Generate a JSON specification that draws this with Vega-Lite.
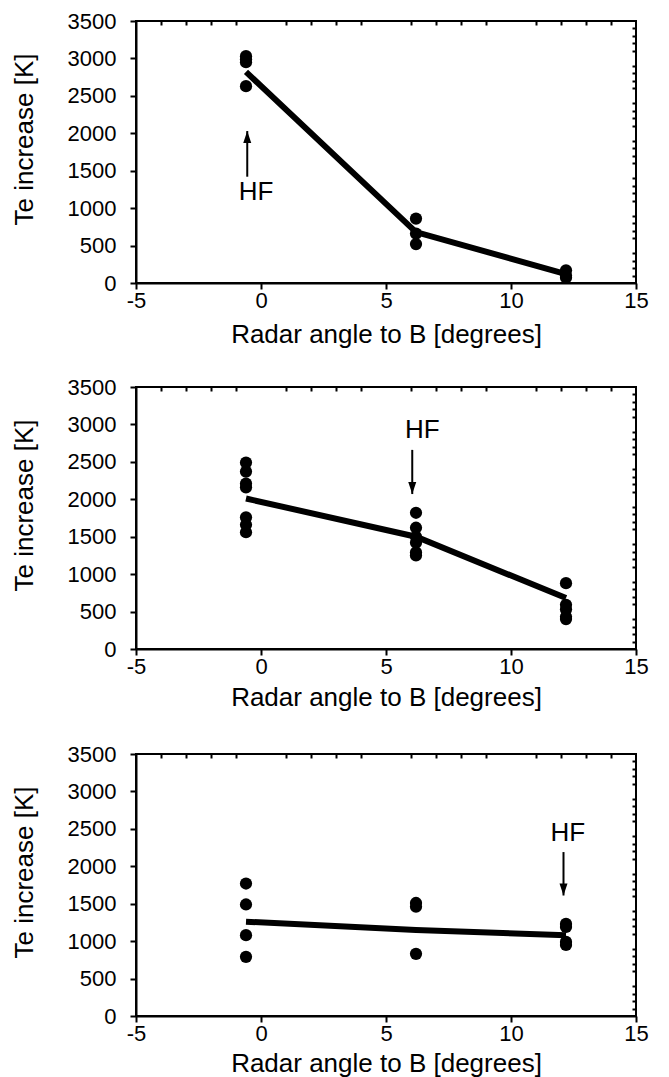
{
  "$schema": "https://vega.github.io/schema/vega-lite/v6.json",
  "background": "white",
  "padding": {"left": 10, "top": 9, "right": 5, "bottom": 0},
  "spacing": 27,
  "config": {
    "font": "Liberation Sans",
    "view": {"stroke": "black", "strokeWidth": 2},
    "axis": {
      "grid": false,
      "tickColor": "black",
      "tickWidth": 2,
      "domainColor": "black",
      "domainWidth": 2,
      "labelColor": "black",
      "labelFont": "Liberation Sans",
      "labelFontSize": 22,
      "titleColor": "black",
      "titleFont": "Liberation Sans",
      "titleFontSize": 26,
      "titleFontWeight": "normal"
    }
  },
  "datasets": {
    "points": [
      {"panel": 1, "angle": -0.6, "te": 3030},
      {"panel": 1, "angle": -0.6, "te": 2990},
      {"panel": 1, "angle": -0.6, "te": 2950},
      {"panel": 1, "angle": -0.6, "te": 2630},
      {"panel": 1, "angle": 6.2, "te": 860},
      {"panel": 1, "angle": 6.2, "te": 660},
      {"panel": 1, "angle": 6.2, "te": 520},
      {"panel": 1, "angle": 12.2, "te": 170},
      {"panel": 1, "angle": 12.2, "te": 100},
      {"panel": 1, "angle": 12.2, "te": 70},
      {"panel": 2, "angle": -0.6, "te": 2490},
      {"panel": 2, "angle": -0.6, "te": 2370},
      {"panel": 2, "angle": -0.6, "te": 2210},
      {"panel": 2, "angle": -0.6, "te": 2160},
      {"panel": 2, "angle": -0.6, "te": 1760},
      {"panel": 2, "angle": -0.6, "te": 1660},
      {"panel": 2, "angle": -0.6, "te": 1560},
      {"panel": 2, "angle": 6.2, "te": 1820},
      {"panel": 2, "angle": 6.2, "te": 1620},
      {"panel": 2, "angle": 6.2, "te": 1500},
      {"panel": 2, "angle": 6.2, "te": 1420},
      {"panel": 2, "angle": 6.2, "te": 1290},
      {"panel": 2, "angle": 6.2, "te": 1250},
      {"panel": 2, "angle": 12.2, "te": 880},
      {"panel": 2, "angle": 12.2, "te": 590},
      {"panel": 2, "angle": 12.2, "te": 530},
      {"panel": 2, "angle": 12.2, "te": 430},
      {"panel": 2, "angle": 12.2, "te": 400},
      {"panel": 3, "angle": -0.6, "te": 1770},
      {"panel": 3, "angle": -0.6, "te": 1490},
      {"panel": 3, "angle": -0.6, "te": 1080},
      {"panel": 3, "angle": -0.6, "te": 790},
      {"panel": 3, "angle": 6.2, "te": 1510},
      {"panel": 3, "angle": 6.2, "te": 1460},
      {"panel": 3, "angle": 6.2, "te": 830},
      {"panel": 3, "angle": 12.2, "te": 1230},
      {"panel": 3, "angle": 12.2, "te": 1190},
      {"panel": 3, "angle": 12.2, "te": 990},
      {"panel": 3, "angle": 12.2, "te": 950}
    ],
    "fit": [
      {"panel": 1, "angle": -0.6, "te": 2820},
      {"panel": 1, "angle": 6.2, "te": 680},
      {"panel": 1, "angle": 12.2, "te": 120},
      {"panel": 2, "angle": -0.6, "te": 2010},
      {"panel": 2, "angle": 6.2, "te": 1500},
      {"panel": 2, "angle": 12.2, "te": 680},
      {"panel": 3, "angle": -0.6, "te": 1260},
      {"panel": 3, "angle": 6.2, "te": 1150},
      {"panel": 3, "angle": 12.2, "te": 1080}
    ],
    "arrows": [
      {"panel": 1, "angle": -0.55, "tail": 1420, "tip": 2030},
      {"panel": 2, "angle": 6.05, "tail": 2660, "tip": 2070},
      {"panel": 3, "angle": 12.1, "tail": 2190, "tip": 1610}
    ],
    "labels": [
      {"panel": 1, "angle": -0.2, "te": 1220, "text": "HF"},
      {"panel": 2, "angle": 6.45, "te": 2920, "text": "HF"},
      {"panel": 3, "angle": 12.27, "te": 2450, "text": "HF"}
    ]
  },
  "vconcat": [
    {
      "width": 500,
      "height": 262,
      "layer": [
        {
          "data": {"name": "points"},
          "transform": [{"filter": "datum.panel == 1"}],
          "mark": {"type": "circle", "size": 150, "color": "black", "opacity": 1},
          "encoding": {
            "x": {"field": "angle", "type": "quantitative", "scale": {"domain": [-5, 15], "nice": false, "zero": false},
              "axis": {"values": [-5, 0, 5, 10, 15], "labelExpr": "'' + datum.value", "tickSize": 6, "labelPadding": 1, "labelFlush": false, "title": "Radar angle to B [degrees]", "titlePadding": 10}},
            "y": {"field": "te", "type": "quantitative", "scale": {"domain": [0, 3500], "nice": false},
              "axis": {"values": [0, 500, 1000, 1500, 2000, 2500, 3000, 3500], "labelExpr": "'' + datum.value", "tickSize": 6, "labelPadding": 14, "title": "Te increase [K]", "titlePadding": 30, "titleY": 118}}
          }
        },
        {
          "data": {"name": "fit"},
          "transform": [{"filter": "datum.panel == 1"}],
          "mark": {"type": "line", "color": "black", "strokeWidth": 6},
          "encoding": {
            "x": {"field": "angle", "type": "quantitative",
              "axis": {"values": [-4, -3, -2, -1, 1, 2, 3, 4, 6, 7, 8, 9, 11, 12, 13, 14], "tickSize": -4, "domain": false, "labels": false, "title": null}},
            "y": {"field": "te", "type": "quantitative",
              "axis": {"values": [100, 200, 300, 400, 600, 700, 800, 900, 1100, 1200, 1300, 1400, 1600, 1700, 1800, 1900, 2100, 2200, 2300, 2400, 2600, 2700, 2800, 2900, 3100, 3200, 3300, 3400], "tickSize": -4, "domain": false, "labels": false, "title": null}}
          }
        },
        {
          "data": {"name": "arrows"},
          "transform": [{"filter": "datum.panel == 1"}],
          "mark": {"type": "rule", "color": "black", "strokeWidth": 2},
          "encoding": {
            "x": {"field": "angle", "type": "quantitative", "axis": null},
            "y": {"field": "tail", "type": "quantitative", "axis": null},
            "y2": {"field": "tip"}
          }
        },
        {
          "data": {"name": "arrows"},
          "transform": [{"filter": "datum.panel == 1"}],
          "mark": {"type": "point", "shape": "M0,0 L-0.8,2.4 L0.8,2.4 Z", "filled": true, "size": 100, "color": "black", "opacity": 1},
          "encoding": {
            "x": {"field": "angle", "type": "quantitative", "axis": null},
            "y": {"field": "tip", "type": "quantitative", "axis": null}
          }
        },
        {
          "data": {"name": "labels"},
          "transform": [{"filter": "datum.panel == 1"}],
          "mark": {"type": "text", "fontSize": 26, "color": "black", "font": "Liberation Sans"},
          "encoding": {
            "x": {"field": "angle", "type": "quantitative", "axis": null},
            "y": {"field": "te", "type": "quantitative", "axis": null},
            "text": {"field": "text"}
          }
        }
      ],
      "resolve": {"axis": {"x": "independent", "y": "independent"}}
    },
    {
      "spacing": 31,
      "vconcat": [
        {
          "width": 500,
          "height": 262,
          "layer": [
            {
              "data": {"name": "points"},
              "transform": [{"filter": "datum.panel == 2"}],
              "mark": {"type": "circle", "size": 150, "color": "black", "opacity": 1},
              "encoding": {
                "x": {"field": "angle", "type": "quantitative", "scale": {"domain": [-5, 15], "nice": false, "zero": false},
                  "axis": {"values": [-5, 0, 5, 10, 15], "labelExpr": "'' + datum.value", "tickSize": 6, "labelPadding": 1, "labelFlush": false, "title": "Radar angle to B [degrees]", "titlePadding": 7}},
                "y": {"field": "te", "type": "quantitative", "scale": {"domain": [0, 3500], "nice": false},
                  "axis": {"values": [0, 500, 1000, 1500, 2000, 2500, 3000, 3500], "labelExpr": "'' + datum.value", "tickSize": 6, "labelPadding": 14, "title": "Te increase [K]", "titlePadding": 30, "titleY": 118}}
              }
            },
            {
              "data": {"name": "fit"},
              "transform": [{"filter": "datum.panel == 2"}],
              "mark": {"type": "line", "color": "black", "strokeWidth": 6},
              "encoding": {
                "x": {"field": "angle", "type": "quantitative",
                  "axis": {"values": [-4, -3, -2, -1, 1, 2, 3, 4, 6, 7, 8, 9, 11, 12, 13, 14], "tickSize": -4, "domain": false, "labels": false, "title": null}},
                "y": {"field": "te", "type": "quantitative",
                  "axis": {"values": [100, 200, 300, 400, 600, 700, 800, 900, 1100, 1200, 1300, 1400, 1600, 1700, 1800, 1900, 2100, 2200, 2300, 2400, 2600, 2700, 2800, 2900, 3100, 3200, 3300, 3400], "tickSize": -4, "domain": false, "labels": false, "title": null}}
              }
            },
            {
              "data": {"name": "arrows"},
              "transform": [{"filter": "datum.panel == 2"}],
              "mark": {"type": "rule", "color": "black", "strokeWidth": 2},
              "encoding": {
                "x": {"field": "angle", "type": "quantitative", "axis": null},
                "y": {"field": "tail", "type": "quantitative", "axis": null},
                "y2": {"field": "tip"}
              }
            },
            {
              "data": {"name": "arrows"},
              "transform": [{"filter": "datum.panel == 2"}],
              "mark": {"type": "point", "shape": "M0,0 L-0.8,-2.4 L0.8,-2.4 Z", "filled": true, "size": 100, "color": "black", "opacity": 1},
              "encoding": {
                "x": {"field": "angle", "type": "quantitative", "axis": null},
                "y": {"field": "tip", "type": "quantitative", "axis": null}
              }
            },
            {
              "data": {"name": "labels"},
              "transform": [{"filter": "datum.panel == 2"}],
              "mark": {"type": "text", "fontSize": 26, "color": "black", "font": "Liberation Sans"},
              "encoding": {
                "x": {"field": "angle", "type": "quantitative", "axis": null},
                "y": {"field": "te", "type": "quantitative", "axis": null},
                "text": {"field": "text"}
              }
            }
          ],
          "resolve": {"axis": {"x": "independent", "y": "independent"}}
        },
        {
          "width": 500,
          "height": 262,
          "layer": [
            {
              "data": {"name": "points"},
              "transform": [{"filter": "datum.panel == 3"}],
              "mark": {"type": "circle", "size": 150, "color": "black", "opacity": 1},
              "encoding": {
                "x": {"field": "angle", "type": "quantitative", "scale": {"domain": [-5, 15], "nice": false, "zero": false},
                  "axis": {"values": [-5, 0, 5, 10, 15], "labelExpr": "'' + datum.value", "tickSize": 6, "labelPadding": 1, "labelFlush": false, "title": "Radar angle to B [degrees]", "titlePadding": 6}},
                "y": {"field": "te", "type": "quantitative", "scale": {"domain": [0, 3500], "nice": false},
                  "axis": {"values": [0, 500, 1000, 1500, 2000, 2500, 3000, 3500], "labelExpr": "'' + datum.value", "tickSize": 6, "labelPadding": 14, "title": "Te increase [K]", "titlePadding": 30, "titleY": 118}}
              }
            },
            {
              "data": {"name": "fit"},
              "transform": [{"filter": "datum.panel == 3"}],
              "mark": {"type": "line", "color": "black", "strokeWidth": 6},
              "encoding": {
                "x": {"field": "angle", "type": "quantitative",
                  "axis": {"values": [-4, -3, -2, -1, 1, 2, 3, 4, 6, 7, 8, 9, 11, 12, 13, 14], "tickSize": -4, "domain": false, "labels": false, "title": null}},
                "y": {"field": "te", "type": "quantitative",
                  "axis": {"values": [100, 200, 300, 400, 600, 700, 800, 900, 1100, 1200, 1300, 1400, 1600, 1700, 1800, 1900, 2100, 2200, 2300, 2400, 2600, 2700, 2800, 2900, 3100, 3200, 3300, 3400], "tickSize": -4, "domain": false, "labels": false, "title": null}}
              }
            },
            {
              "data": {"name": "arrows"},
              "transform": [{"filter": "datum.panel == 3"}],
              "mark": {"type": "rule", "color": "black", "strokeWidth": 2},
              "encoding": {
                "x": {"field": "angle", "type": "quantitative", "axis": null},
                "y": {"field": "tail", "type": "quantitative", "axis": null},
                "y2": {"field": "tip"}
              }
            },
            {
              "data": {"name": "arrows"},
              "transform": [{"filter": "datum.panel == 3"}],
              "mark": {"type": "point", "shape": "M0,0 L-0.8,-2.4 L0.8,-2.4 Z", "filled": true, "size": 100, "color": "black", "opacity": 1},
              "encoding": {
                "x": {"field": "angle", "type": "quantitative", "axis": null},
                "y": {"field": "tip", "type": "quantitative", "axis": null}
              }
            },
            {
              "data": {"name": "labels"},
              "transform": [{"filter": "datum.panel == 3"}],
              "mark": {"type": "text", "fontSize": 26, "color": "black", "font": "Liberation Sans"},
              "encoding": {
                "x": {"field": "angle", "type": "quantitative", "axis": null},
                "y": {"field": "te", "type": "quantitative", "axis": null},
                "text": {"field": "text"}
              }
            }
          ],
          "resolve": {"axis": {"x": "independent", "y": "independent"}}
        }
      ]
    }
  ]
}
